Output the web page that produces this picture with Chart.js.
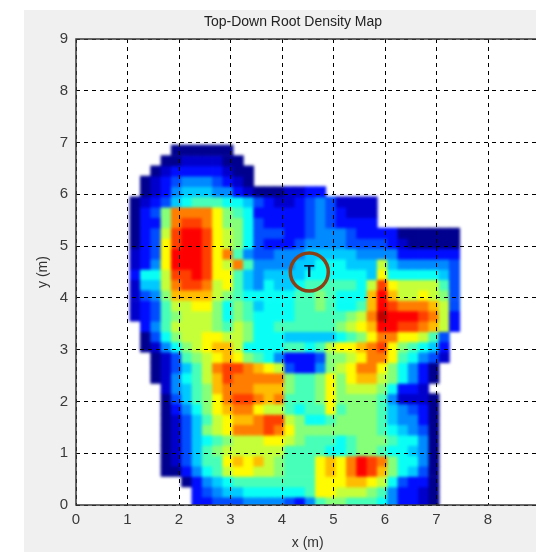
<!DOCTYPE html>
<html>
<head>
<meta charset="utf-8">
<title>Top-Down Root Density Map</title>
<script src="https://cdn.jsdelivr.net/npm/chart.js@4/dist/chart.umd.min.js"></script>
<style>
  html, body { margin: 0; padding: 0; background: #fff; width: 536px; height: 552px; overflow: hidden; }
  #wrap { position: absolute; left: 24px; top: 10px; width: 512px; height: 542px; overflow: hidden; background: #f0f0f0; }
  canvas { display: block; filter: blur(0.4px); }
</style>
</head>
<body>
<div id="wrap"><canvas id="rootChart" width="538" height="542"></canvas></div>
<script>
// cell centres in metres
const cellX = [1.15,1.35,1.55,1.75,1.95,2.15,2.35,2.55,2.75,2.95,3.15,3.35,3.55,3.75,3.95,4.15,4.35,4.55,4.75,4.95,5.15,5.35,5.55,5.75,5.95,6.15,6.35,6.55,6.75,6.95,7.15,7.35];
const cellY = [0.05,0.25,0.45,0.65,0.85,1.05,1.25,1.45,1.65,1.85,2.05,2.25,2.45,2.65,2.85,3.05,3.25,3.45,3.65,3.85,4.05,4.25,4.45,4.65,4.85,5.05,5.25,5.45,5.65,5.85,6.05,6.25,6.45,6.65,6.85];

// density level per cell (0 = no data, 1..16 along the jet map), one row per cellY
const densityRows = [
  [0,0,0,0,0,0,3,3,4,4,4,5,5,5,5,4,3,5,8,9,9,8,8,8,7,5,3,3,2,1],
  [0,0,0,0,0,0,3,4,5,6,6,7,7,7,7,7,7,8,11,11,10,10,10,9,8,5,3,3,2,1],
  [0,0,0,0,0,1,3,5,6,7,8,8,8,8,8,8,8,8,11,11,11,12,12,11,10,7,4,3,3,1],
  [0,0,0,1,1,3,5,7,8,10,11,11,10,10,9,8,8,8,11,12,11,13,15,14,12,9,7,6,4,1],
  [0,0,0,1,2,4,6,8,8,11,12,11,12,10,9,8,8,8,11,12,11,13,15,14,13,9,7,7,5,1],
  [0,0,0,1,2,4,6,8,9,10,10,10,10,10,10,8,8,8,8,7,7,8,9,9,8,7,7,6,5,1],
  [0,0,0,1,2,4,6,7,8,9,10,10,10,11,11,10,9,8,8,8,7,8,9,9,9,8,7,7,5,1],
  [0,0,0,1,2,4,6,9,10,11,13,13,13,14,13,11,9,9,9,9,9,9,9,9,8,7,6,5,4,1],
  [0,0,0,1,2,4,6,8,10,11,12,12,13,14,14,10,9,7,7,8,9,9,9,9,8,6,5,5,3,1],
  [0,0,0,1,3,5,7,9,11,12,13,13,11,10,10,8,7,8,8,11,8,9,9,9,8,6,5,4,3,1],
  [0,0,0,1,4,6,8,9,11,13,14,14,13,12,13,8,8,8,9,11,9,9,9,9,8,5,2,2,2,1],
  [0,0,0,2,5,6,8,9,12,13,13,13,12,12,12,9,8,8,9,11,9,10,10,10,9,7,3,3,2],
  [0,0,1,2,5,7,8,10,12,14,13,13,13,13,13,9,8,8,9,11,9,11,12,12,10,9,7,5,3,1],
  [0,0,1,2,4,6,8,10,13,14,14,13,12,11,10,4,3,3,5,9,10,11,13,13,11,9,7,5,3,1],
  [0,0,1,2,4,8,9,10,11,12,11,9,8,7,5,3,3,3,4,9,9,10,11,13,13,11,8,7,5,4,2],
  [0,1,2,5,7,9,10,11,12,12,10,7,7,7,7,8,8,7,8,10,11,11,12,13,14,11,9,8,7,6,3],
  [0,1,4,7,9,10,10,11,11,10,10,9,7,7,7,6,6,6,6,6,7,8,9,11,13,13,11,11,10,8,4],
  [0,3,5,8,10,10,10,10,9,8,10,9,7,7,8,8,8,8,8,8,9,10,11,12,15,15,14,14,13,12,10,3],
  [2,3,4,8,9,10,10,10,9,7,9,8,7,7,7,7,8,8,8,8,8,9,10,13,16,15,15,15,14,13,10,3],
  [2,3,4,8,10,10,11,11,9,7,9,8,6,7,7,7,8,8,9,8,7,7,8,12,15,14,13,13,13,12,10,4],
  [2,4,5,9,12,12,12,12,10,9,8,7,7,7,7,7,8,8,9,8,7,7,7,12,15,12,10,10,11,10,9,4],
  [2,6,6,10,13,14,14,13,10,11,8,6,5,7,6,6,7,8,8,8,8,8,7,10,14,11,10,10,10,10,8,4],
  [3,7,7,10,14,14,15,14,11,11,8,6,5,6,6,6,6,7,7,7,7,7,7,6,11,7,7,7,7,7,6,4],
  [2,3,5,11,15,15,15,14,11,10,13,8,5,5,5,5,6,6,7,7,7,6,6,6,10,6,5,5,5,5,5,4],
  [2,3,4,11,15,15,15,14,11,13,8,5,4,4,5,5,5,6,6,6,6,6,5,5,5,5,3,3,3,3,3,3],
  [1,3,4,11,14,15,15,14,11,10,9,7,4,3,3,3,4,5,5,5,5,4,4,4,4,3,2,1,1,1,1,1],
  [1,3,4,10,14,15,15,14,11,10,9,7,4,4,4,3,3,4,5,5,5,4,3,3,3,3,1,1,1,1,1,1],
  [1,3,3,9,13,14,14,13,11,9,9,7,4,3,3,3,3,4,5,4,3,3,3,3],
  [1,3,4,9,13,13,13,13,11,9,8,7,3,3,3,3,3,4,5,4,3,2,2,2],
  [1,2,3,4,6,7,8,8,8,7,7,6,4,3,2,2,3,4,5,4,2,2,2,2],
  [0,1,2,3,5,6,6,6,5,5,3,2,1,1,1,2,2,3,3],
  [0,1,2,3,4,5,5,5,4,3,2,1],
  [0,0,1,2,3,3,3,3,3,2,1,1],
  [0,0,0,1,1,2,2,2,2,1,1],
  [0,0,0,0,1,1,1,1,1,1]
];

const xTicks = [0, 1, 2, 3, 4, 5, 6, 7, 8, 9];
const treeAt = [{ x: 4.53, y: 4.5 }];

function jet(level) {
  const t = 0.015 + (level - 1) / 14 * 0.86;
  const ch = (c) => Math.round(255 * Math.max(0, Math.min(1, 1.5 - Math.abs(4 * t - c))));
  return `rgb(${ch(3)},${ch(2)},${ch(1)})`;
}

const cells = [];
densityRows.forEach((row, r) => {
  row.forEach((level, c) => {
    if (level > 0) cells.push({ x: cellX[c], y: cellY[r], level });
  });
});

const fontName = "'Liberation Sans', Arial, sans-serif";

const plotFrame = {
  id: "plotFrame",
  beforeDatasetsDraw(chart) {
    const a = chart.chartArea;
    chart.ctx.save();
    chart.ctx.fillStyle = "#fff";
    chart.ctx.fillRect(a.left, a.top, a.width, a.height);
    chart.ctx.restore();
  },
  // the picture is a smoothed map: blur the finished cell layer onto itself
  afterDatasetDraw(chart, args) {
    if (args.index !== 1) return;
    const a = chart.chartArea;
    const ctx = chart.ctx;
    ctx.save();
    ctx.beginPath();
    ctx.rect(a.left, a.top, a.width, a.height);
    ctx.clip();
    ctx.filter = "blur(1.6px)";
    ctx.drawImage(chart.canvas, 0, 0);
    ctx.restore();
  },
  afterDraw(chart) {
    const a = chart.chartArea;
    const ctx = chart.ctx;
    ctx.save();
    ctx.strokeStyle = "#3a3a3a";
    ctx.lineWidth = 1.5;
    ctx.strokeRect(a.left, a.top, a.width, a.height);
    // tree label in the middle of the ring
    ctx.fillStyle = "#0c1a3c";
    ctx.font = "bold 17px " + fontName;
    ctx.textAlign = "center";
    ctx.textBaseline = "middle";
    ctx.fillText("T", chart.scales.x.getPixelForValue(treeAt[0].x), chart.scales.y.getPixelForValue(treeAt[0].y));
    ctx.restore();
  },
};

new Chart(document.getElementById("rootChart").getContext("2d"), {
  type: "scatter",
  data: {
    datasets: [
      {
        data: treeAt,
        pointStyle: "circle",
        pointRadius: 19,
        pointBorderWidth: 3.5,
        pointBorderColor: "#8a3f14",
        pointBackgroundColor: "rgba(0,0,0,0)",
        order: 0,
      },
      {
        data: cells,
        pointStyle: "rect",
        pointRadius: 7.8,
        pointBorderWidth: 0,
        pointBackgroundColor: (c) => jet(c.raw.level),
        order: 1,
      },
    ],
  },
  plugins: [plotFrame],
  options: {
    responsive: false,
    animation: false,
    events: [],
    plugins: {
      legend: { display: false },
      tooltip: { enabled: false },
      title: {
        display: true,
        text: "Top-Down Root Density Map",
        color: "#222",
        font: { family: fontName, size: 14, weight: "normal", lineHeight: 1.2 },
        padding: { top: 4, bottom: 8.2 },
      },
    },
    scales: {
      x: {
        type: "linear",
        min: 0,
        max: 9,
        afterBuildTicks: (s) => { s.ticks = xTicks.map((value) => ({ value })); },
        afterFit: (s) => { s.height = 47; },
        grid: { color: "#000", lineWidth: 1, z: 1, drawTicks: false },
        border: { display: false, dash: [4, 4] },
        ticks: { color: "#3a3a3a", font: { family: fontName, size: 15 }, padding: 6, maxRotation: 0, autoSkip: false },
        title: { display: true, text: "x (m)", color: "#333", font: { family: fontName, size: 14 }, padding: { top: 3, bottom: 0 } },
      },
      y: {
        type: "linear",
        min: 0,
        max: 9,
        afterBuildTicks: (s) => { s.ticks = xTicks.map((value) => ({ value })); },
        afterFit: (s) => { s.width = 52; },
        grid: { color: "#000", lineWidth: 1, z: 1, drawTicks: false },
        border: { display: false, dash: [4, 4] },
        ticks: { color: "#3a3a3a", font: { family: fontName, size: 15 }, padding: 8, autoSkip: false },
        title: { display: true, text: "y (m)", color: "#333", font: { family: fontName, size: 14 }, padding: { top: 11, bottom: 0 } },
      },
      // spare room on the right, the title sits left of the plot's own centre
      side: {
        type: "linear",
        position: "right",
        afterFit: (s) => { s.width = 22; },
        grid: { display: false },
        border: { display: false },
        ticks: { display: false },
      },
    },
  },
});
</script>
</body>
</html>
